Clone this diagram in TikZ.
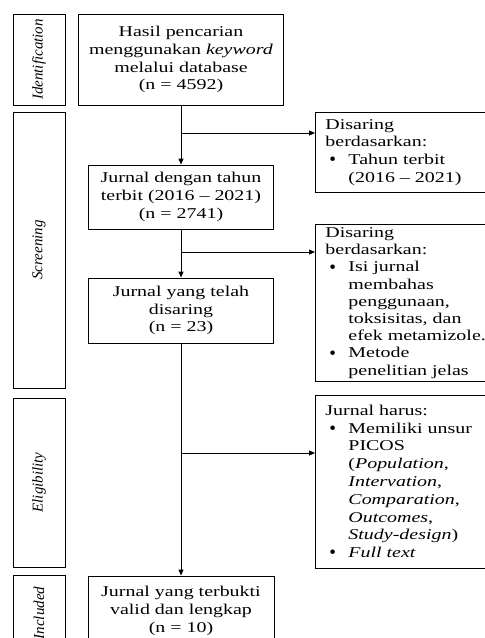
\documentclass[tikz,border=0pt]{standalone}
\usepackage{fontspec}
\setmainfont{Liberation Serif}[FakeStretch=1.33]
\newfontfamily\sidefont{Liberation Serif}
\usetikzlibrary{arrows.meta}
\newcommand{\mybul}{\makebox[23pt][l]{\hspace{4pt}\raisebox{-1.2pt}{\sidefont\fontsize{19}{19}\selectfont\textbullet}}}
\newcommand{\myind}{\hspace*{23pt}}
\begin{document}
\begin{tikzpicture}[x=1pt,y=-1pt,
  font=\fontsize{15}{17.8}\selectfont,
  box/.style={draw, line width=0.9pt, align=center, inner sep=0pt},
  side/.style={draw, line width=0.9pt, rotate=90, font=\fontsize{15}{18}\selectfont\sidefont\itshape, inner sep=0pt, minimum height=52pt},
  rbox/.style={draw, line width=0.9pt, anchor=north west, align=left, inner xsep=10pt, inner ysep=0pt, text width=170pt},
  arr/.style={line width=0.9pt, -{Triangle[length=6pt,width=5pt]}}]
\useasboundingbox (0,0) rectangle (485,638);
\fill[white] (0,0) rectangle (485,638);
\clip (0,0) rectangle (485,638);
% side labels
\node[side, minimum width=91pt] (sid) at (39,59.5) {Identification};
\node[side, minimum width=276pt] (ssc) at (39,250) {Screening};
\node[side, minimum width=169pt] (sel) at (39,482.5) {Eligibility};
\node[side, minimum width=76pt] (sin) at (39,613) {Included};
% main boxes
\node[box, minimum width=205pt, minimum height=91pt] (b1) at (181,59.5) {Hasil pencarian\\ menggunakan \textit{keyword}\\ melalui database\\ (n = 4592)};
\node[box, minimum width=185pt, minimum height=64pt] (b2) at (181,197) {Jurnal dengan tahun\\ terbit (2016 – 2021)\\ (n = 2741)};
\node[box, minimum width=185pt, minimum height=65pt] (b3) at (181,310.5) {Jurnal yang telah\\ disaring\\ (n = 23)};
\node[box, minimum width=186pt, minimum height=70pt] (b4) at (181,611) {Jurnal yang terbukti\\ valid dan lengkap\\ (n = 10)};
% right boxes
\node[rbox, minimum height=80pt] (r1) at (315,112) {Disaring\\ berdasarkan:\\ \mybul Tahun terbit\\ \myind(2016 – 2021)};
\node[rbox, minimum height=157pt, font=\fontsize{15}{17.2}\selectfont] (r2) at (315,224) {Disaring\\ berdasarkan:\\ \mybul Isi jurnal\\ \myind membahas\\ \myind penggunaan,\\ \myind toksisitas, dan\\ \myind efek metamizole.\\ \mybul Metode\\ \myind penelitian jelas};
\node[rbox, minimum height=173pt] (r3) at (315,395) {Jurnal harus:\\ \mybul Memiliki unsur\\ \myind PICOS\\ \myind(\textit{Population},\\ \myind\textit{Intervation},\\ \myind\textit{Comparation},\\ \myind\textit{Outcomes},\\ \myind\textit{Study-design})\\ \mybul\textit{Full text}};
% connectors
\coordinate (j1) at (b1.south |- 0,133);
\coordinate (j2) at (b2.south |- 0,252);
\coordinate (j3) at (b3.south |- 0,453);
\draw[arr] (b1.south) -- (b2.north);
\draw[arr] (b2.south) -- (b3.north);
\draw[arr] (b3.south) -- (b4.north);
\draw[arr] (j1) -- (j1 -| r1.west);
\draw[arr] (j2) -- (j2 -| r2.west);
\draw[arr] (j3) -- (j3 -| r3.west);
\end{tikzpicture}
\end{document}
